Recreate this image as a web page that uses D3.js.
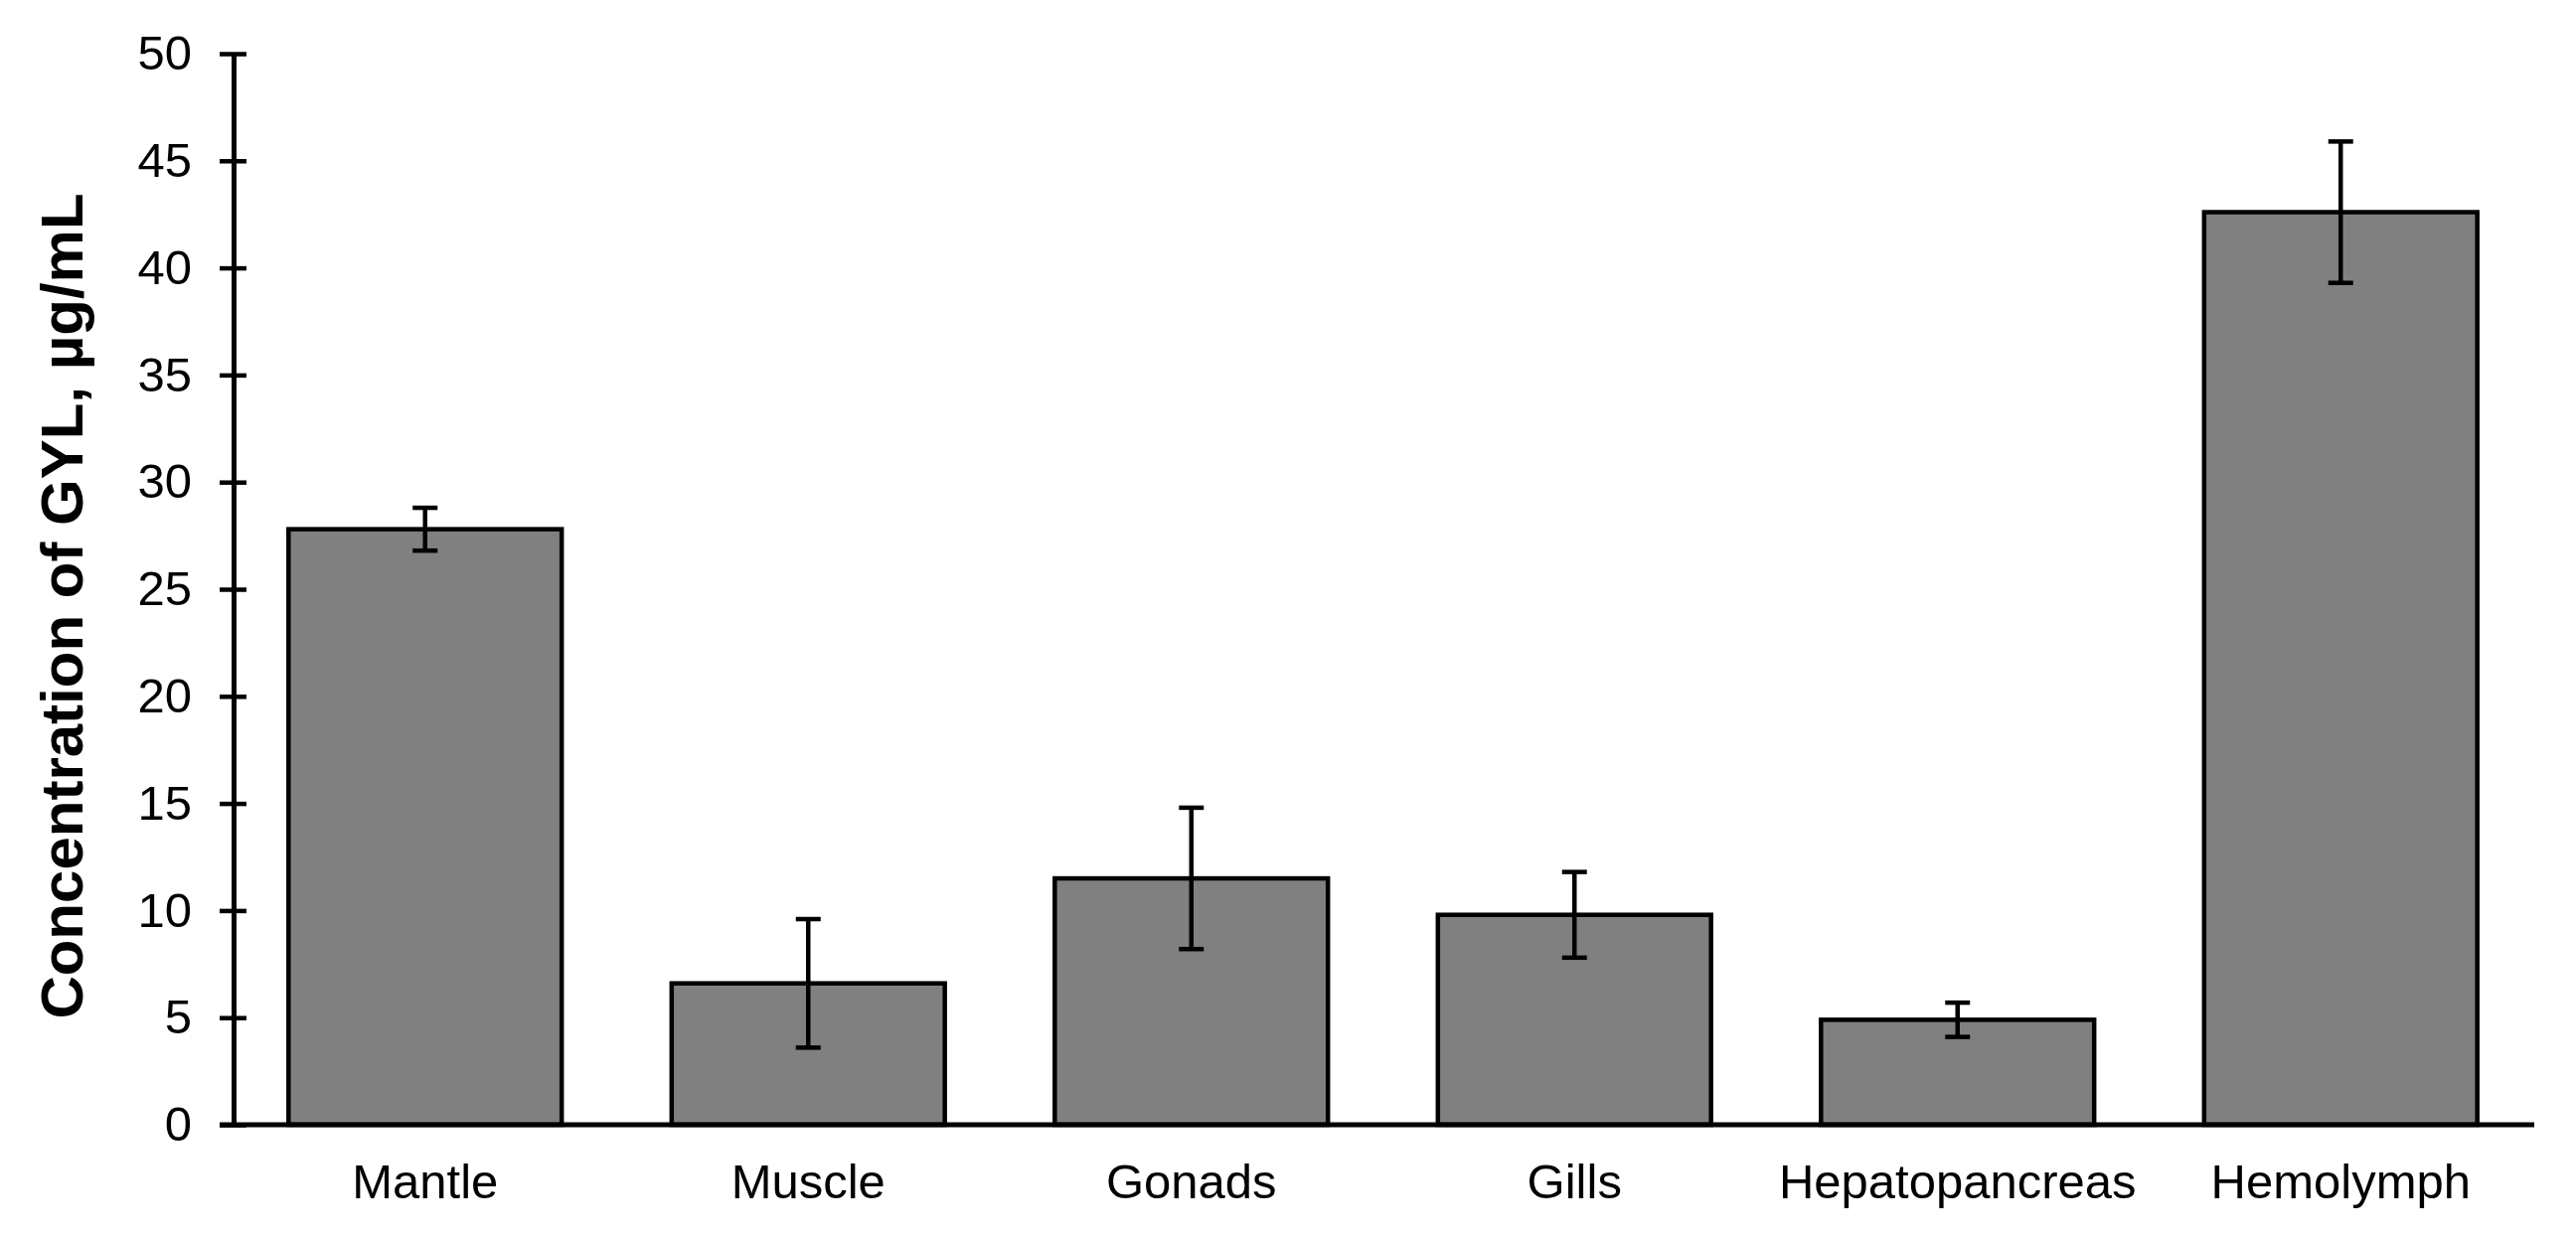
<!DOCTYPE html>
<html>
<head>
<meta charset="utf-8">
<script src="https://cdn.jsdelivr.net/npm/d3@7"></script>
<style>
  body { margin: 0; background: #fff; }
  text { font-family: "Liberation Sans", Arial, sans-serif; }
</style>
</head>
<body>
<svg id="chart"></svg>
<script>
// Data
const tissues = ["Mantle", "Muscle", "Gonads", "Gills", "Hepatopancreas", "Hemolymph"];
const means = [27.8, 6.6, 11.5, 9.8, 4.9, 42.6];
const errors = [1.0, 3.0, 3.3, 2.0, 0.8, 3.3];
const yTicks = [0, 5, 10, 15, 20, 25, 30, 35, 40, 45, 50];

const width = 2592;
const height = 1248;
const margin = { top: 54, right: 44, bottom: 116, left: 235 };

const svg = d3.select("#chart")
    .attr("width", width)
    .attr("height", height);

const x = d3.scaleBand()
    .domain(tissues)
    .range([margin.left, width - margin.right])
    .paddingInner(0.287)
    .paddingOuter(0.1435);

const y = d3.scaleLinear()
    .domain([0, 50])
    .range([height - margin.bottom, margin.top]);

// Bars
svg.append("g")
    .selectAll("rect")
    .data(tissues)
    .enter().append("rect")
    .attr("x", d => x(d))
    .attr("y", (d, i) => y(means[i]))
    .attr("width", x.bandwidth())
    .attr("height", (d, i) => y(0) - y(means[i]))
    .attr("fill", "#808080")
    .attr("stroke", "#000")
    .attr("stroke-width", 4.5);

// Error bars
const eb = svg.append("g")
    .selectAll("g")
    .data(tissues)
    .enter().append("g");

const cx = d => x(d) + x.bandwidth() / 2;
const capW = 12.5;

eb.append("line")
    .attr("x1", cx).attr("x2", cx)
    .attr("y1", (d, i) => y(means[i] + errors[i]))
    .attr("y2", (d, i) => y(means[i] - errors[i]))
    .attr("stroke", "#000").attr("stroke-width", 4.5);

eb.append("line")
    .attr("x1", d => cx(d) - capW).attr("x2", d => cx(d) + capW)
    .attr("y1", (d, i) => y(means[i] + errors[i]))
    .attr("y2", (d, i) => y(means[i] + errors[i]))
    .attr("stroke", "#000").attr("stroke-width", 4.5);

eb.append("line")
    .attr("x1", d => cx(d) - capW).attr("x2", d => cx(d) + capW)
    .attr("y1", (d, i) => y(means[i] - errors[i]))
    .attr("y2", (d, i) => y(means[i] - errors[i]))
    .attr("stroke", "#000").attr("stroke-width", 4.5);

// Y axis, ticks cross the line
const yAxis = svg.append("g")
    .attr("transform", `translate(${margin.left},0)`)
    .call(d3.axisLeft(y).tickValues(yTicks).tickSize(12).tickPadding(30).tickSizeOuter(0));

yAxis.select(".domain").attr("stroke-width", 5);
yAxis.selectAll(".tick line")
    .attr("x1", -14).attr("x2", 13)
    .attr("stroke-width", 4.5);
yAxis.selectAll(".tick text")
    .attr("font-size", 49)
    .attr("fill", "#000")
    .attr("font-family", "Liberation Sans, Arial, sans-serif");

// X axis
const xAxis = svg.append("g")
    .attr("transform", `translate(0,${y(0)})`)
    .call(d3.axisBottom(x).tickSize(0).tickPadding(39));

xAxis.select(".domain")
    .attr("d", `M${margin.left - 14},0H${width - 42}`)
    .attr("stroke-width", 5);
xAxis.selectAll(".tick text")
    .attr("font-size", 49)
    .attr("fill", "#000")
    .attr("font-family", "Liberation Sans, Arial, sans-serif");

// Y axis title
svg.append("text")
    .attr("transform", "translate(83,610) rotate(-90)")
    .attr("text-anchor", "middle")
    .attr("font-size", 60)
    .attr("font-weight", "bold")
    .attr("fill", "#000")
    .text("Concentration of GYL, µg/mL");
</script>
</body>
</html>
